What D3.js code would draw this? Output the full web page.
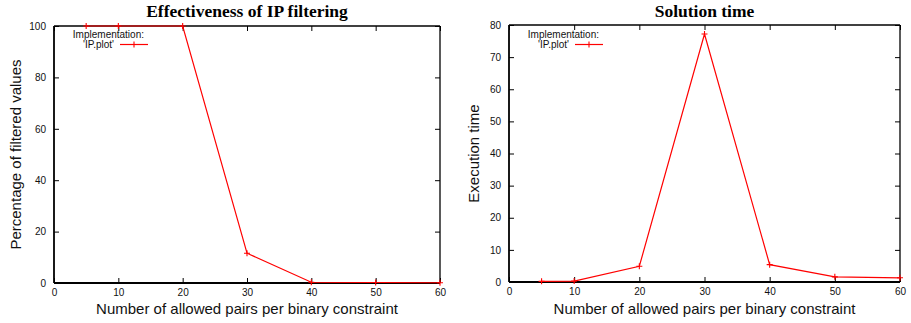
<!DOCTYPE html>
<html>
<head>
<meta charset="utf-8">
<script src="https://cdn.jsdelivr.net/npm/d3@7"></script>
<style>
  html, body { margin: 0; padding: 0; background: #fff; }
  svg { display: block; }
</style>
</head>
<body>
<svg id="chart" width="911" height="323"></svg>
<script>
// Allowed pairs per binary constraint (shared x values)
const pairs = [5, 10, 20, 30, 40, 50, 60];
// Percentage of values removed by IP filtering
const filteredPct = [100, 100, 100, 11.6, 0.3, 0.2, 0.1];
// Execution time of the solver
const execTime = [0.2, 0.3, 4.9, 77.2, 5.4, 1.6, 1.3];

const xTicks = [0, 10, 20, 30, 40, 50, 60];
const pctTicks = [0, 20, 40, 60, 80, 100];
const timeTicks = [0, 10, 20, 30, 40, 50, 60, 70, 80];

const panels = [
  { title: "Effectiveness of IP filtering", ylabel: "Percentage of filtered values",
    values: filteredPct, yMax: 100, yTicks: pctTicks,
    left: 54, right: 440, top: 26, bottom: 283, ylabelX: 16 },
  { title: "Solution time", ylabel: "Execution time",
    values: execTime, yMax: 80, yTicks: timeTicks,
    left: 509, right: 900, top: 25, bottom: 282, ylabelX: 474 }
];

const svg = d3.select("#chart");
const sans = "'Liberation Sans', Arial, Helvetica, sans-serif";
const serif = "'Liberation Serif', 'Times New Roman', serif";

panels.forEach(p => {
  const x = d3.scaleLinear().domain([0, 60]).range([p.left, p.right]);
  const y = d3.scaleLinear().domain([0, p.yMax]).range([p.bottom, p.top]);
  const g = svg.append("g");
  const tickLen = 5;

  // Axes with inward ticks on all four sides
  const bottomAxis = d3.axisBottom(x).tickValues(xTicks).tickSize(-tickLen).tickPadding(6);
  const topAxis = d3.axisTop(x).tickValues(xTicks).tickSize(-tickLen).tickFormat("");
  const leftAxis = d3.axisLeft(y).tickValues(p.yTicks).tickSize(-tickLen).tickPadding(8);
  const rightAxis = d3.axisRight(y).tickValues(p.yTicks).tickSize(-tickLen).tickFormat("");

  const gb = g.append("g").attr("transform", `translate(0,${p.bottom})`).call(bottomAxis);
  const gt = g.append("g").attr("transform", `translate(0,${p.top})`).call(topAxis);
  const gl = g.append("g").attr("transform", `translate(${p.left},0)`).call(leftAxis);
  const gr = g.append("g").attr("transform", `translate(${p.right},0)`).call(rightAxis);

  [gb, gt, gl, gr].forEach(a => {
    a.select(".domain").remove();
    a.selectAll(".tick line").attr("stroke", "#000").attr("stroke-width", 1);
    a.selectAll(".tick text").attr("font-family", sans).attr("font-size", 10).attr("fill", "#111");
  });

  // Frame: heavier left and bottom edges
  g.append("line").attr("x1", p.left).attr("x2", p.right).attr("y1", p.top).attr("y2", p.top)
    .attr("stroke", "#000").attr("stroke-width", 1.3);
  g.append("line").attr("x1", p.right).attr("x2", p.right).attr("y1", p.top).attr("y2", p.bottom)
    .attr("stroke", "#000").attr("stroke-width", 1.3);
  g.append("line").attr("x1", p.left).attr("x2", p.left).attr("y1", p.top).attr("y2", p.bottom)
    .attr("stroke", "#000").attr("stroke-width", 1.8);
  g.append("line").attr("x1", p.left).attr("x2", p.right).attr("y1", p.bottom).attr("y2", p.bottom)
    .attr("stroke", "#000").attr("stroke-width", 1.8);

  // Data line
  const line = d3.line().x((d, i) => x(pairs[i])).y(d => y(d));
  g.append("path").datum(p.values).attr("d", line)
    .attr("fill", "none").attr("stroke", "#ff0000").attr("stroke-width", 1.2);

  // "+" point markers
  const m = 3;
  g.append("g").selectAll("path").data(p.values).join("path")
    .attr("d", (d, i) => {
      const cx = x(pairs[i]), cy = y(d);
      return `M${cx - m},${cy}H${cx + m}M${cx},${cy - m}V${cy + m}`;
    })
    .attr("stroke", "#ff0000").attr("stroke-width", 1.1);

  // Title
  g.append("text").attr("x", (p.left + p.right) / 2).attr("y", 17)
    .attr("text-anchor", "middle").attr("font-family", serif).attr("font-weight", "bold")
    .attr("font-size", 17.5).attr("fill", "#000").text(p.title);

  // Axis labels
  g.append("text").attr("x", (p.left + p.right) / 2).attr("y", 314)
    .attr("text-anchor", "middle").attr("font-family", sans).attr("font-size", 15)
    .attr("fill", "#111").text("Number of allowed pairs per binary constraint");
  g.append("text")
    .attr("transform", `translate(${p.ylabelX},${(p.top + p.bottom) / 2}) rotate(-90)`)
    .attr("text-anchor", "middle").attr("dy", "0.35em").attr("font-family", sans).attr("font-size", 15)
    .attr("fill", "#111").text(p.ylabel);

  // Legend
  const lx = p.left + 60;
  g.append("text").attr("x", lx + 30).attr("y", 38).attr("text-anchor", "end")
    .attr("font-family", sans).attr("font-size", 10).attr("fill", "#111").text("Implementation:");
  g.append("text").attr("x", lx).attr("y", 48).attr("text-anchor", "end")
    .attr("font-family", sans).attr("font-size", 10).attr("fill", "#111").text("'IP.plot'");
  g.append("line").attr("x1", lx + 6).attr("x2", lx + 34).attr("y1", 44.5).attr("y2", 44.5)
    .attr("stroke", "#ff0000").attr("stroke-width", 1.2);
  g.append("path").attr("d", `M${lx + 20 - m},44.5H${lx + 20 + m}M${lx + 20},${44.5 - m}V${44.5 + m}`)
    .attr("stroke", "#ff0000").attr("stroke-width", 1.1);
});
</script>
</body>
</html>
